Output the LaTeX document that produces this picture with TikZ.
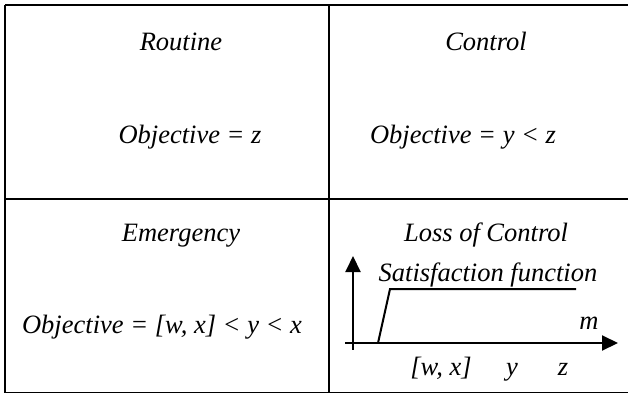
\documentclass[tikz,border=0pt]{standalone}
\usepackage{fontspec}
\setmainfont{Liberation Serif}
\newfontfamily\timit{Liberation Serif Italic}
\usetikzlibrary{arrows.meta}
\begin{document}
\begin{tikzpicture}[x=1pt,y=-1pt,
  lbl/.style={inner sep=0pt,anchor=base,font=\timit\fontsize{26.5}{30}\selectfont},
  grid/.style={line width=1.8pt,black},
  axis/.style={line width=2pt,-{Triangle[length=16pt,width=15pt]}},
  curve/.style={line width=2pt}]
\useasboundingbox (0,0) rectangle (628,396);
\fill[white] (0,0) rectangle (628,396);
% table lines
\coordinate (tl) at (5,5);
\coordinate (tr) at (628,5);
\coordinate (ml) at (5,199);
\coordinate (mr) at (628,199);
\coordinate (bl) at (5,392.5);
\coordinate (br) at (628,392.5);
\coordinate (dt) at (329,5);
\coordinate (db) at (329,392.5);
\draw[grid] (tl) -- (tr);
\draw[grid] (ml) -- (mr);
\draw[grid] (bl) -- (br);
\draw[grid] (tl) -- (bl);
\draw[grid] (dt) -- (db);
% texts
\node[lbl] (routine) at (181,50) {Routine};
\node[lbl] (obj1) at (190,143) {Objective = z};
\node[lbl] (control) at (486,50) {Control};
\node[lbl] (obj2) at (463,143) {Objective = y < z};
\node[lbl] (emerg) at (181,241) {Emergency};
\node[lbl] (obj3) at (162,333) {Objective = [w, x] < y < x};
\node[lbl] (loss) at (486,241) {Loss of Control};
\node[lbl] (sat) at (488,281) {Satisfaction function};
\node[lbl] (m) at (589,329) {m};
\node[lbl] (wx) at (441,375) {[w, x]};
\node[lbl] (y) at (512,375) {y};
\node[lbl] (z) at (563,375) {z};
% axes
\coordinate (vb) at (353,349.5);
\coordinate (vt) at (353,256);
\coordinate (hb) at (345,343);
\coordinate (ht) at (618,343);
\draw[axis] (vb) -- (vt);
\draw[axis] (hb) -- (ht);
% satisfaction curve
\coordinate (s0) at (378,343);
\coordinate (s1) at (390,289);
\coordinate (s2) at (576,289);
\draw[curve] (s0) -- (s1) -- (s2);
\end{tikzpicture}
\end{document}
